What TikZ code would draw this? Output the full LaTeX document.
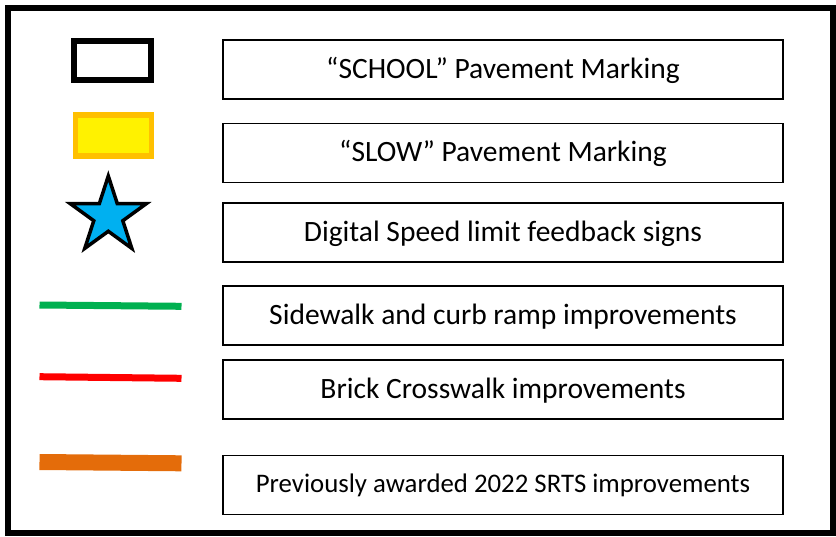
\documentclass[tikz,border=0pt]{standalone}
\usepackage{fontspec}
\setmainfont{Carlito}
\usetikzlibrary{shapes.geometric}
\definecolor{gold}{RGB}{255,192,0}
\definecolor{skyblue}{RGB}{0,176,240}
\definecolor{walkgreen}{RGB}{0,176,80}
\definecolor{brickred}{RGB}{255,0,0}
\definecolor{srtsorange}{RGB}{228,108,10}

\begin{document}
\begin{tikzpicture}[x=1pt,y=-1pt,
	entry/.style={draw,line width=1.5pt,minimum width=560pt,minimum height=59pt,inner sep=0pt,text height=22.6pt,text depth=5.6pt,font=\fontsize{29.5}{34}\selectfont},
	swatch/.style={draw,line width=6pt,minimum width=77pt,minimum height=39pt,inner sep=0pt}]
\useasboundingbox (0,0) rectangle (836,536);
\draw[line width=6pt] (8,8) rectangle (833,533);

% legend symbols
\node[swatch] (school) at (112.5,60) {};
\node[swatch,draw=gold,fill=yellow,line width=5.5pt,minimum width=76pt,minimum height=41pt] (slow) at (113.5,135.7) {};
\node[star,star points=5,star point ratio=2.618,minimum size=80pt,inner sep=0pt,draw,line width=3.5pt,fill=skyblue] (speed) at (108.3,216) {};
\draw[line width=7pt,walkgreen] (39.5,305) -- (181.5,306.3);
\draw[line width=7pt,brickred] (39.5,376.7) -- (181.5,378.3);
\draw[line width=16pt,srtsorange] (39.5,462) -- (181.5,463.3);

% legend boxes
\foreach \name/\y/\txt in {school/69.5/{“SCHOOL” Pavement Marking},
	slow/153/{“SLOW” Pavement Marking},
	speed/232.5/{Digital Speed limit feedback signs},
	walk/315.5/{Sidewalk and curb ramp improvements},
	brick/389.5/{Brick Crosswalk improvements}}
{
	\node[entry] (t-\name) at (503,\y) {\txt};
}
\node[entry,text height=20.5pt,text depth=5.1pt,font=\fontsize{26.8}{31}\selectfont] (t-srts) at (503,485) {Previously awarded 2022 SRTS improvements};
\end{tikzpicture}
\end{document}
